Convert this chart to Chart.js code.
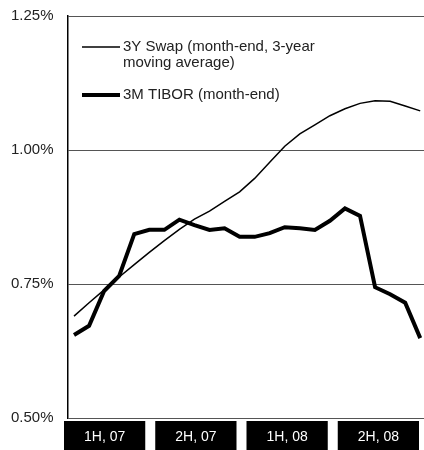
<!DOCTYPE html>
<html>
<head>
<meta charset="utf-8">
<script src="https://cdn.jsdelivr.net/npm/chart.js@4.4.1/dist/chart.umd.min.js"></script>
<style>
  html, body { margin: 0; padding: 0; background: #fff; }
  canvas { display: block; }
</style>
</head>
<body>
<canvas id="rateChart" width="424" height="450"></canvas>
<script>
// month-end observations, Jan 07 .. Dec 08
const months = ['Jan 07', 'Feb 07', 'Mar 07', 'Apr 07', 'May 07', 'Jun 07', 'Jul 07', 'Aug 07', 'Sep 07', 'Oct 07', 'Nov 07', 'Dec 07',
                'Jan 08', 'Feb 08', 'Mar 08', 'Apr 08', 'May 08', 'Jun 08', 'Jul 08', 'Aug 08', 'Sep 08', 'Oct 08', 'Nov 08', 'Dec 08'];
const halfYears = ['1H, 07', '2H, 07', '1H, 08', '2H, 08'];
const swap3y = [0.690, 0.715, 0.739, 0.763, 0.786, 0.809, 0.831, 0.852, 0.871, 0.886, 0.904, 0.922,
                0.947, 0.977, 1.007, 1.030, 1.047, 1.064, 1.077, 1.087, 1.092, 1.091, 1.082, 1.073];
const tibor3m = [0.655, 0.672, 0.737, 0.765, 0.843, 0.851, 0.851, 0.870, 0.860, 0.851, 0.854, 0.838,
                 0.838, 0.845, 0.856, 0.854, 0.851, 0.868, 0.891, 0.877, 0.744, 0.731, 0.715, 0.649];
const yTicks = [0.50, 0.75, 1.00, 1.25];
const swapLegend = ['3Y Swap (month-end, 3-year', 'moving average)'];
const tiborLegend = ['3M TIBOR (month-end)'];

const FONT = '"Liberation Sans Narrow", "Arial Narrow", "Liberation Sans", Arial, sans-serif';

const toPoints = arr => arr.map((v, i) => ({ x: i + 1, y: v }));

// half-year boxes under the plot and the legend in the upper left
const decorPlugin = {
  id: 'decor',
  afterDraw(chart) {
    const { ctx, chartArea } = chart;
    ctx.save();

    // half-year label boxes
    const start = chartArea.left - 4;
    const end = chartArea.right + 5;
    const step = (end - start) / halfYears.length;
    const gap = 10;
    ctx.font = '14px ' + FONT;
    ctx.textAlign = 'center';
    ctx.textBaseline = 'middle';
    halfYears.forEach((txt, k) => {
      const x0 = start + k * step;
      const w = step - gap;
      ctx.fillStyle = '#000';
      ctx.fillRect(x0, chartArea.bottom + 3, w, chart.height - chartArea.bottom - 3);
      ctx.fillStyle = '#fff';
      ctx.fillText(txt, x0 + w / 2, chartArea.bottom + 19);
    });

    // legend
    const lx = chartArea.left + 14;
    const rows = [
      { lines: swapLegend, ds: chart.data.datasets[0], y: chartArea.top + 31 },
      { lines: tiborLegend, ds: chart.data.datasets[1], y: chartArea.top + 79 }
    ];
    ctx.font = '15px ' + FONT;
    ctx.textAlign = 'left';
    rows.forEach(r => {
      ctx.strokeStyle = r.ds.borderColor;
      ctx.lineWidth = r.ds.borderWidth;
      ctx.beginPath();
      ctx.moveTo(lx, r.y);
      ctx.lineTo(lx + 38, r.y);
      ctx.stroke();
      ctx.fillStyle = '#222';
      r.lines.forEach((t, j) => ctx.fillText(t, lx + 41, r.y + j * 16));
    });
    ctx.restore();
  }
};

const ctx = document.getElementById('rateChart').getContext('2d');
const rateChart = new Chart(ctx, {
  type: 'line',
  data: {
    labels: months,
    datasets: [{
      label: swapLegend.join(' '),
      data: toPoints(swap3y),
      borderColor: '#000',
      borderWidth: 1.5,
      pointRadius: 0,
      tension: 0
    }, {
      label: tiborLegend.join(' '),
      data: toPoints(tibor3m),
      borderColor: '#000',
      borderWidth: 4,
      pointRadius: 0,
      tension: 0
    }]
  },
  options: {
    responsive: false,
    animation: false,
    layout: { padding: { top: 16, bottom: 32, left: 11, right: 0 } },
    plugins: {
      legend: { display: false },
      tooltip: { enabled: false }
    },
    scales: {
      x: {
        type: 'linear',
        display: false,
        min: 0.6,
        max: months.length + 0.25
      },
      y: {
        min: yTicks[0],
        max: yTicks[yTicks.length - 1],
        afterBuildTicks: scale => { scale.ticks = yTicks.map(v => ({ value: v })); },
        afterFit: scale => { scale.width = 57; },
        border: { display: true, color: '#000', width: 1.5 },
        grid: { color: '#555', lineWidth: 1, drawTicks: false },
        ticks: {
          padding: 0,
          crossAlign: 'far',
          color: '#222',
          font: { family: FONT, size: 15 },
          callback: v => v.toFixed(2) + '%'
        }
      }
    }
  },
  plugins: [decorPlugin]
});
</script>
</body>
</html>
